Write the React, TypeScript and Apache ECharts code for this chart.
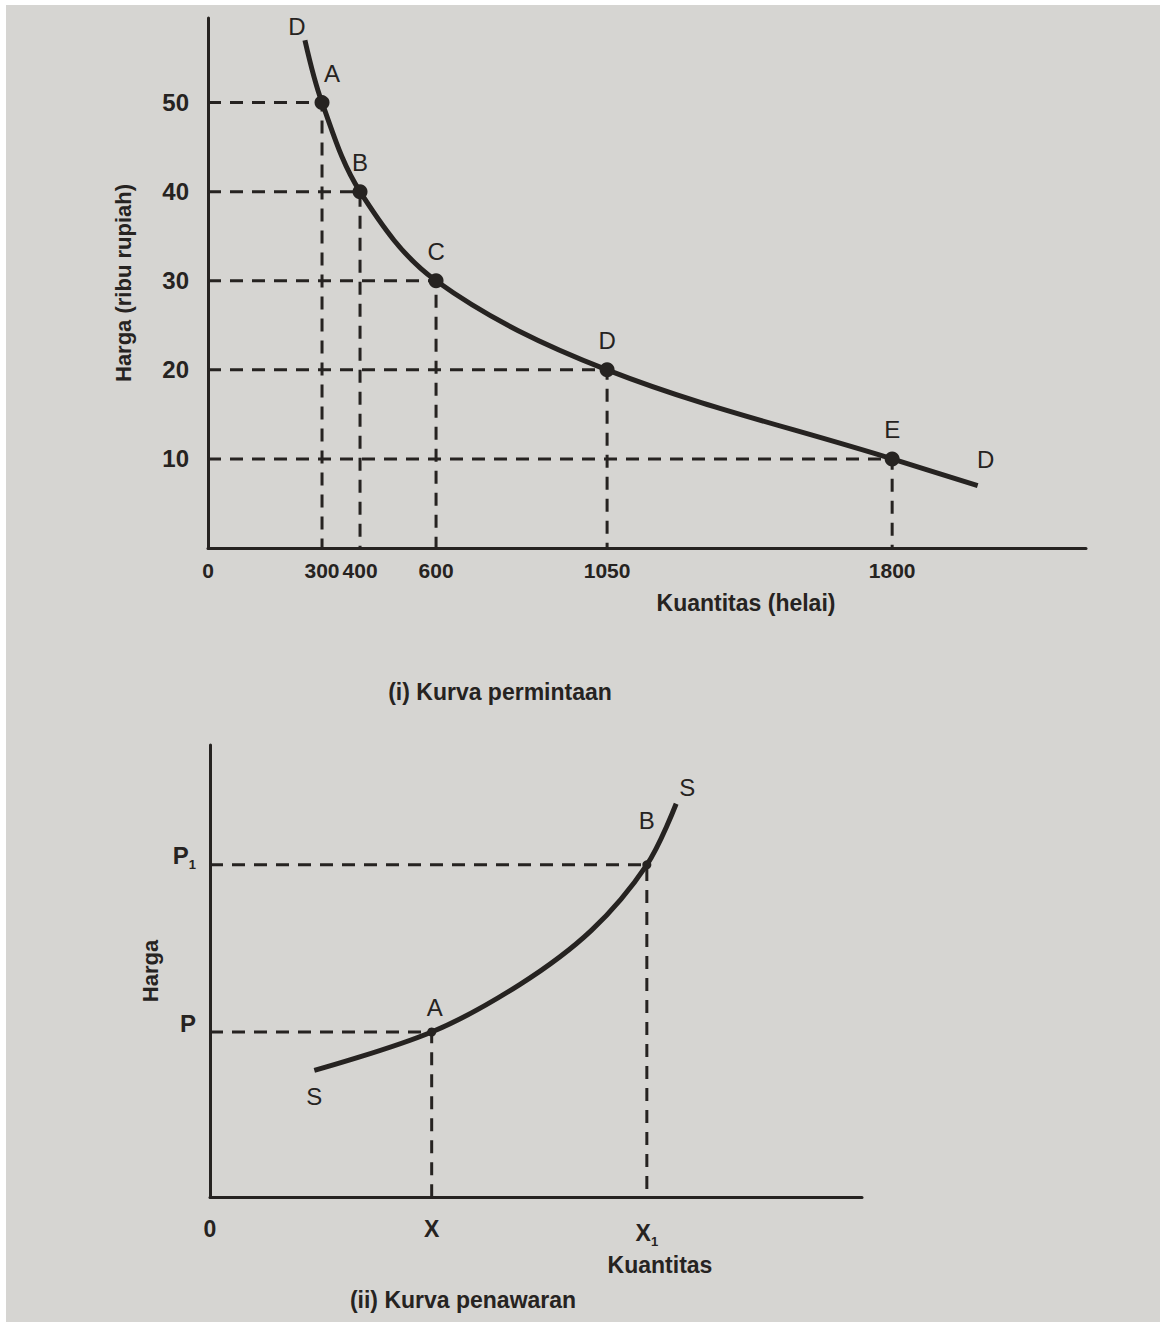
import React, { useEffect, useRef } from "react";
import * as echarts from "echarts";

// ---------- (i) Kurva permintaan (demand curve) ----------
const demandPointLabels = ["A", "B", "C", "D", "E"];
const demandQuantity = [300, 400, 600, 1050, 1800];
const demandPrice = [50, 40, 30, 20, 10];
const demandCurveQuantity = [255, 300, 400, 600, 1050, 1800, 2025];
const demandCurvePrice = [57, 50, 40, 30, 20, 10, 7];
const demandXTicks = [0, 300, 400, 600, 1050, 1800];
const demandYTicks = [10, 20, 30, 40, 50];

// ---------- (ii) Kurva penawaran (supply curve) ----------
const supplyPointLabels = ["A", "B"];
const supplyQuantity = [3.4, 6.7];
const supplyPrice = [3.65, 7.35];
const supplyCurveQuantity = [1.6, 3.4, 4.75, 5.85, 6.7, 7.15];
const supplyCurvePrice = [2.8, 3.65, 4.7, 5.9, 7.35, 8.7];
const supplyXTickValues = [0, 3.4, 6.7];
const supplyXTickLabels = ["0", "X", "X{sub|1}"];
const supplyYTickValues = [3.65, 7.35];
const supplyYTickLabels = ["P", "P{sub|1}"];

const INK = "#262321";
const PAPER = "#d6d5d2";
const BOLD = "'Liberation Sans', Arial, sans-serif";
const SANS = "'Liberation Sans', Arial, sans-serif";

const tickFont = {
  color: INK,
  fontFamily: BOLD,
  fontWeight: "bold" as const,
  fontSize: 23,
};

const subRich = {
  sub: {
    fontFamily: BOLD,
    fontWeight: "bold" as const,
    fontSize: 13,
    color: INK,
    verticalAlign: "bottom" as const,
    padding: [18, 0, 0, 0],
  },
};

function guideLines(xs: number[], ys: number[], xAxisIndex: number, yAxisIndex: number) {
  return xs.map((x, i) => ({
    type: "line",
    xAxisIndex,
    yAxisIndex,
    data: [
      [0, ys[i]],
      [x, ys[i]],
      [x, 0],
    ],
    symbol: "none",
    silent: true,
    lineStyle: { color: INK, width: 3, type: [13, 9] },
    z: 1,
  }));
}

function titleText(text: string, x: number, y: number) {
  return {
    type: "text",
    x,
    y,
    z: 100,
    style: {
      text,
      fill: INK,
      fontFamily: BOLD,
      fontWeight: "bold",
      fontSize: 23,
      align: "center",
      verticalAlign: "middle",
    },
  };
}

const pointLabel = {
  show: true,
  formatter: "{b}",
  color: INK,
  fontFamily: SANS,
  fontSize: 24,
};

export default function App() {
  const ref = useRef<HTMLDivElement>(null);

  useEffect(() => {
    if (!ref.current) return;
    const chart = echarts.init(ref.current, null, { renderer: "svg" });

    const axisLine = { show: true, lineStyle: { color: INK, width: 3 } };

    const option: any = {
      animation: false,
      backgroundColor: "#ffffff",
      grid: [
        { left: 208, top: 18, width: 878, height: 530 },
        { left: 210, top: 745, width: 652, height: 452 },
      ],
      xAxis: [
        {
          type: "value",
          gridIndex: 0,
          min: 0,
          max: 2310,
          axisLine,
          axisTick: { show: false },
          splitLine: { show: false },
          axisLabel: {
            ...tickFont,
            fontSize: 21,
            margin: 12,
            customValues: demandXTicks,
            formatter: (v: number) => String(v),
          },
        },
        {
          type: "value",
          gridIndex: 1,
          min: 0,
          max: 10,
          axisLine,
          axisTick: { show: false },
          splitLine: { show: false },
          axisLabel: {
            ...tickFont,
            margin: 20,
            customValues: supplyXTickValues,
            formatter: (v: number) => {
              const i = supplyXTickValues.indexOf(v);
              return i >= 0 ? supplyXTickLabels[i] : "";
            },
            rich: subRich,
          },
        },
      ],
      yAxis: [
        {
          type: "value",
          gridIndex: 0,
          min: 0,
          max: 59.5,
          axisLine,
          axisTick: { show: false },
          splitLine: { show: false },
          axisLabel: {
            ...tickFont,
            fontSize: 24,
            margin: 19,
            customValues: demandYTicks,
            formatter: (v: number) => String(v),
          },
          name: "Harga (ribu rupiah)",
          nameLocation: "middle",
          nameRotate: 90,
          nameGap: 74,
          nameTextStyle: { ...tickFont, fontSize: 22 },
        },
        {
          type: "value",
          gridIndex: 1,
          min: 0,
          max: 10,
          axisLine,
          axisTick: { show: false },
          splitLine: { show: false },
          axisLabel: {
            ...tickFont,
            fontSize: 24,
            margin: 14,
            customValues: supplyYTickValues,
            formatter: (v: number) => {
              const i = supplyYTickValues.indexOf(v);
              return i >= 0 ? supplyYTickLabels[i] : "";
            },
            rich: subRich,
            padding: [0, 0, 18, 0],
          },
          name: "Harga",
          nameLocation: "middle",
          nameRotate: 90,
          nameGap: 38,
          nameTextStyle: { ...tickFont, fontSize: 22 },
        },
      ],
      graphic: {
        elements: [
          {
            type: "rect",
            z: -100,
            silent: true,
            shape: { x: 6, y: 5, width: 1154, height: 1317 },
            style: { fill: PAPER },
          },
          titleText("Kuantitas (helai)", 746, 603),
          titleText("(i) Kurva permintaan", 500, 692),
          titleText("Kuantitas", 660, 1265),
          titleText("(ii) Kurva penawaran", 463, 1300),
        ],
      },
      series: [
        ...guideLines(demandQuantity, demandPrice, 0, 0),
        ...guideLines(supplyQuantity, supplyPrice, 1, 1),
        {
          type: "line",
          name: "Permintaan",
          xAxisIndex: 0,
          yAxisIndex: 0,
          smooth: 0.35,
          symbol: "none",
          data: demandCurveQuantity.map((q, i) => [q, demandCurvePrice[i]]),
          lineStyle: { color: INK, width: 5 },
          z: 3,
        },
        {
          type: "line",
          name: "Penawaran",
          xAxisIndex: 1,
          yAxisIndex: 1,
          smooth: 0.35,
          symbol: "none",
          data: supplyCurveQuantity.map((q, i) => [q, supplyCurvePrice[i]]),
          lineStyle: { color: INK, width: 5 },
          z: 3,
        },
        {
          type: "scatter",
          xAxisIndex: 0,
          yAxisIndex: 0,
          symbolSize: 15,
          itemStyle: { color: INK, opacity: 1 },
          z: 4,
          data: demandQuantity.map((q, i) => ({
            name: demandPointLabels[i],
            value: [q, demandPrice[i]],
            label: i === 0 ? { offset: [10, 0] } : undefined,
          })),
          label: { ...pointLabel, position: "top", distance: 10 },
        },
        {
          type: "scatter",
          xAxisIndex: 0,
          yAxisIndex: 0,
          symbolSize: 0,
          itemStyle: { opacity: 1 },
          z: 4,
          data: [
            {
              name: "D",
              value: [demandCurveQuantity[0], demandCurvePrice[0]],
              label: { offset: [-8, 0], distance: 2 },
            },
            {
              name: "D",
              value: [
                demandCurveQuantity[demandCurveQuantity.length - 1],
                demandCurvePrice[demandCurvePrice.length - 1],
              ],
              label: { offset: [8, 0], distance: 14 },
            },
          ],
          label: { ...pointLabel, position: "top" },
        },
        {
          type: "scatter",
          xAxisIndex: 1,
          yAxisIndex: 1,
          symbolSize: 9,
          itemStyle: { color: INK, opacity: 1 },
          z: 4,
          data: supplyQuantity.map((q, i) => ({
            name: supplyPointLabels[i],
            value: [q, supplyPrice[i]],
            label: i === 1 ? { distance: 28, offset: [0, 0] } : { distance: 8, offset: [3, 0] },
          })),
          label: { ...pointLabel, position: "top" },
        },
        {
          type: "scatter",
          xAxisIndex: 1,
          yAxisIndex: 1,
          symbolSize: 0,
          itemStyle: { opacity: 1 },
          z: 4,
          data: [
            {
              name: "S",
              value: [supplyCurveQuantity[0], supplyCurvePrice[0]],
              label: { position: "bottom", distance: 14 },
            },
            {
              name: "S",
              value: [
                supplyCurveQuantity[supplyCurveQuantity.length - 1],
                supplyCurvePrice[supplyCurvePrice.length - 1],
              ],
              label: { position: "top", offset: [11, 0], distance: 4 },
            },
          ],
          label: { ...pointLabel },
        },
      ],
    };

    chart.setOption(option);
    return () => chart.dispose();
  }, []);

  return (
    <div
      ref={ref}
      style={{ position: "absolute", left: 0, top: 0, width: 1165, height: 1327 }}
    />
  );
}
